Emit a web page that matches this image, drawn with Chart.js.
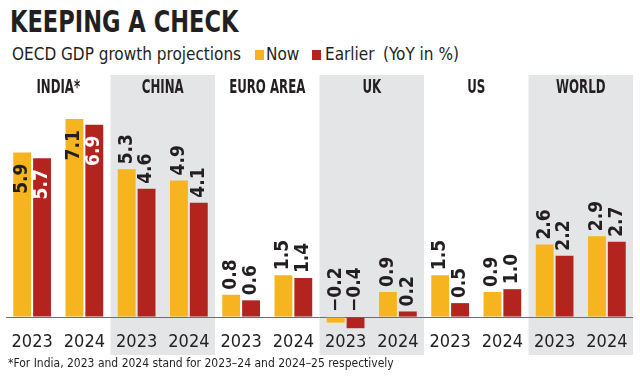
<!DOCTYPE html>
<html lang="en">
<head>
<meta charset="UTF-8">
<title>Keeping a check</title>
<script src="https://cdn.jsdelivr.net/npm/chart.js"></script>
<style>
    * {
        margin: 0;
        padding: 0;
        box-sizing: border-box;
    }

    body {
        width: 640px;
        height: 377px;
        position: relative;
        overflow: hidden;
        background: #ffffff;
        color: #231f20;
        font-family: "DejaVu Sans Condensed", "DejaVu Sans", sans-serif;
    }

    #title {
        position: absolute;
        left: 10px;
        top: 7px;
        font-size: 30px;
        line-height: 30px;
        font-weight: bold;
        white-space: nowrap;
        transform: scaleX(0.835);
        transform-origin: left top;
    }

    #subtitle span {
        position: absolute;
        top: 46px;
        font-size: 17px;
        line-height: 17px;
        white-space: nowrap;
    }

    #subtitle .swatch {
        top: 50px;
        width: 9px;
        height: 10px;
    }

    #chart-box {
        position: absolute;
        left: 0;
        top: 70px;
        width: 640px;
        height: 290px;
    }

    #note {
        position: absolute;
        left: 8px;
        top: 357px;
        font-size: 12px;
        line-height: 12px;
        white-space: nowrap;
    }
</style>
</head>
<body>
    <div id="title">KEEPING A CHECK</div>
    <div id="subtitle">
        <span style="left:12px">OECD GDP growth projections</span>
        <span class="swatch" style="left:255px; background:#f6b51e"></span>
        <span style="left:266px">Now</span>
        <span class="swatch" style="left:312px; background:#b3241f"></span>
        <span style="left:325px">Earlier</span>
        <span style="left:383px">(YoY in %)</span>
    </div>
    <div id="chart-box"><canvas id="chart"></canvas></div>
    <div id="note">*For India, 2023 and 2024 stand for 2023–24 and 2024–25 respectively</div>

<script>
    // data
    const panels = ['INDIA*', 'CHINA', 'EURO AREA', 'UK', 'US', 'WORLD'];
    const years = ['2023', '2024', '2023', '2024', '2023', '2024', '2023', '2024', '2023', '2024', '2023', '2024'];
    const nowValues = [5.9, 7.1, 5.3, 4.9, 0.8, 1.5, -0.2, 0.9, 1.5, 0.9, 2.6, 2.9];
    const earlierValues = [5.7, 6.9, 4.6, 4.1, 0.6, 1.4, -0.4, 0.2, 0.5, 1.0, 2.2, 2.7];

    const ink = '#231f20';
    const nowColor = '#f6b51e';
    const earlierColor = '#b3241f';
    const panelGray = '#e4e5e7';
    const condensed = '"DejaVu Sans Condensed", "DejaVu Sans", sans-serif';

    // grey bands behind every second country + country names
    const panelPlugin = {
        id: 'panels',
        beforeDraw(chart) {
            const { ctx, chartArea } = chart;
            const w = (chartArea.right - chartArea.left) / panels.length;
            ctx.save();
            panels.forEach((name, i) => {
                const x0 = chartArea.left + i * w;
                if (i % 2 === 1) {
                    ctx.fillStyle = panelGray;
                    ctx.fillRect(x0, 5, w, 280);
                }
                ctx.save();
                ctx.translate(x0 + w / 2, 18);
                ctx.scale(0.69, 1);
                ctx.fillStyle = ink;
                ctx.font = 'bold 19px ' + condensed;
                ctx.textAlign = 'center';
                ctx.textBaseline = 'middle';
                ctx.fillText(name, 0, 0);
                ctx.restore();
            });
            ctx.restore();
        }
    };

    // rotated value labels; India's sit inside the bars
    const valuePlugin = {
        id: 'values',
        afterDatasetsDraw(chart) {
            const { ctx } = chart;
            const zero = chart.scales.y.getPixelForValue(0);
            chart.data.datasets.forEach((ds, di) => {
                chart.getDatasetMeta(di).data.forEach((bar, i) => {
                    const txt = ds.data[i].toFixed(1).replace('-', '\u2212');
                    ctx.save();
                    ctx.font = 'bold 19px ' + condensed;
                    ctx.textBaseline = 'middle';
                    ctx.translate(bar.x, Math.min(bar.y, zero));
                    ctx.rotate(-Math.PI / 2);
                    if (i < 2) {
                        ctx.textAlign = 'right';
                        ctx.fillStyle = di === 0 ? ink : '#ffffff';
                        ctx.fillText(txt, -11, 0);
                    } else {
                        ctx.textAlign = 'left';
                        ctx.fillStyle = ink;
                        ctx.fillText(txt, 5, 0);
                    }
                    ctx.restore();
                });
            });
        }
    };

    new Chart(document.getElementById('chart'), {
        type: 'bar',
        data: {
            labels: years,
            datasets: [
                { label: 'Now', data: nowValues, backgroundColor: nowColor },
                { label: 'Earlier', data: earlierValues, backgroundColor: earlierColor }
            ]
        },
        options: {
            responsive: true,
            maintainAspectRatio: false,
            animation: false,
            layout: { padding: { left: 6, right: 7, top: 24, bottom: 5.4 } },
            datasets: {
                bar: { categoryPercentage: 0.76, barPercentage: 0.9, borderWidth: 0 }
            },
            plugins: {
                legend: { display: false },
                tooltip: { enabled: false }
            },
            scales: {
                x: {
                    grid: { display: false, drawTicks: false },
                    border: { display: false },
                    ticks: { color: ink, padding: 1, font: { family: condensed, size: 18 } }
                },
                y: {
                    min: -0.5,
                    max: 8,
                    ticks: { display: false, stepSize: 0.5 },
                    border: { display: false },
                    grid: {
                        drawTicks: false,
                        color: c => c.tick.value === 0 ? '#6d6e71' : 'transparent'
                    }
                }
            }
        },
        plugins: [panelPlugin, valuePlugin]
    });
</script>
</body>
</html>
